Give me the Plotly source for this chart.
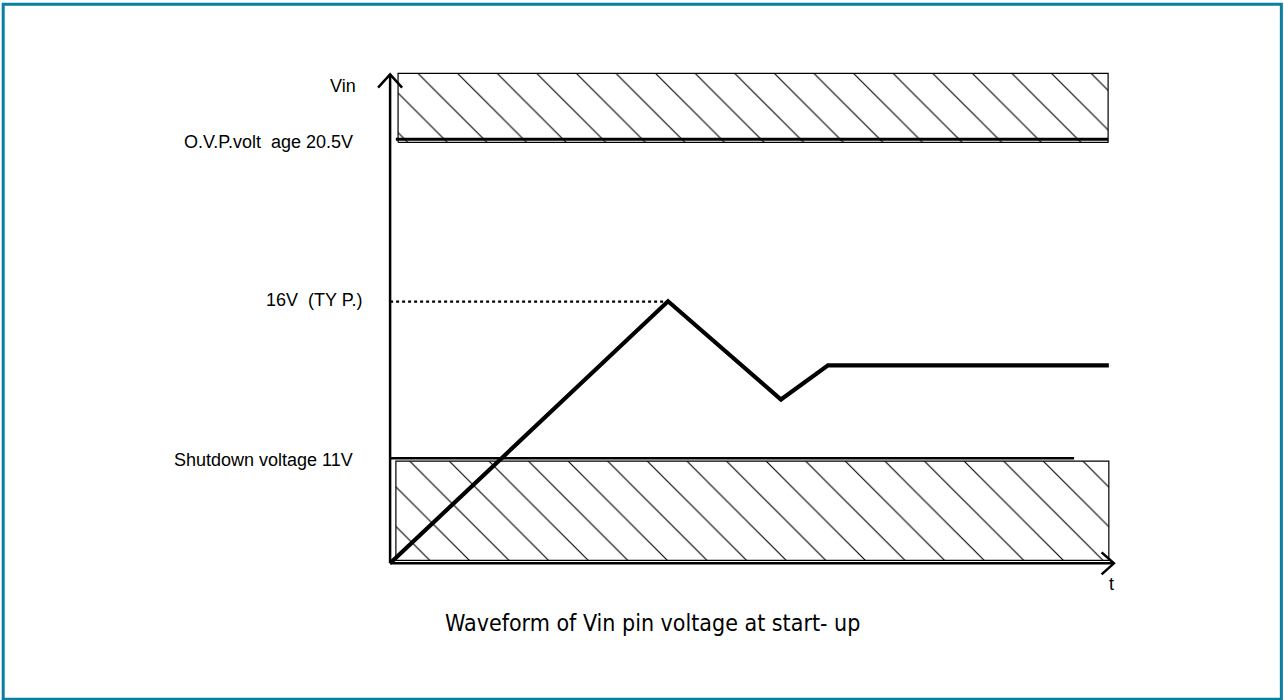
import plotly.graph_objects as go

# ---------------- data (schematic units: time 0-100, Vin level 0-100) ----------------
wave_t = [0.0, 38.4, 54.0, 60.5, 99.3]
wave_v = [0.0, 53.6, 33.5, 40.5, 40.5]

ovp_box_t = [1.1, 99.2]
ovp_box_v = [86.1, 100.2]
ovp_line_t = [0.8, 99.2]
ovp_level = 86.7

typ_line_t = [0.0, 38.4]
typ_level = 53.5

sd_line_t = [0.0, 94.5]
sd_level = 21.5
sd_box_t = [0.8, 99.3]
sd_box_v = [0.6, 20.9]

label_text = ["Vin", "O.V.P.volt  age 20.5V", "16V  (TY P.)", "Shutdown voltage 11V"]
label_t = [-4.4, -4.8, -3.6, -4.8]
label_v = [97.6, 86.1, 53.8, 21.2]

axis_tip_t = 100.0
axis_tip_v = 100.0

title_text = "Waveform of Vin pin voltage at start- up"
title_pos = (36.2, -12.3)
xlabel_text = "t"
xlabel_pos = (99.7, -4.3)

# ---------------- layout geometry ----------------
W, H = 1284, 700
ORIGIN_PX = (390, 563)
KX, KY = 7.24, 4.89
XR = [-2.5, 102.5]
YR = [-3.0, 101.5]
ml = ORIGIN_PX[0] + XR[0] * KX
mr = W - (ORIGIN_PX[0] + XR[1] * KX)
mt = ORIGIN_PX[1] - YR[1] * KY
mb = H - (ORIGIN_PX[1] - YR[0] * KY)
PW, PH = W - ml - mr, H - mt - mb


def px2paper(px, py):
    return (px - ml) / PW, (H - py - mb) / PH


def data2paper(tx, vy):
    return (tx - XR[0]) / (XR[1] - XR[0]), (vy - YR[0]) / (YR[1] - YR[0])


fig = go.Figure()


def hatched_box(tt, vv):
    fig.add_trace(go.Scatter(
        x=[tt[0], tt[1], tt[1], tt[0], tt[0]],
        y=[vv[0], vv[0], vv[1], vv[1], vv[0]],
        mode="lines", fill="toself", fillcolor="white",
        fillpattern=dict(shape="\\", size=28, solidity=0.04,
                         fgcolor="black", bgcolor="white", fillmode="replace"),
        line=dict(color="black", width=1.2),
        hoverinfo="skip", showlegend=False))


hatched_box(ovp_box_t, ovp_box_v)
hatched_box(sd_box_t, sd_box_v)

fig.add_trace(go.Scatter(x=ovp_line_t, y=[ovp_level] * 2, mode="lines",
                         line=dict(color="black", width=3), showlegend=False, hoverinfo="skip"))
fig.add_trace(go.Scatter(x=sd_line_t, y=[sd_level] * 2, mode="lines",
                         line=dict(color="black", width=2.5), showlegend=False, hoverinfo="skip"))
fig.add_trace(go.Scatter(x=typ_line_t, y=[typ_level] * 2, mode="lines",
                         line=dict(color="black", width=2.2, dash="dot"), showlegend=False, hoverinfo="skip"))

fig.add_trace(go.Scatter(x=[0, 0], y=[0, axis_tip_v], mode="lines",
                         line=dict(color="black", width=2.5), showlegend=False, hoverinfo="skip"))
fig.add_trace(go.Scatter(x=[0, axis_tip_t], y=[0, 0], mode="lines",
                         line=dict(color="black", width=2.5), showlegend=False, hoverinfo="skip"))
fig.add_trace(go.Scatter(x=[-1.66, 0, 1.66], y=[axis_tip_v - 2.7, axis_tip_v, axis_tip_v - 2.7],
                         mode="lines", line=dict(color="black", width=2.5),
                         showlegend=False, hoverinfo="skip"))
fig.add_trace(go.Scatter(x=[axis_tip_t - 1.7, axis_tip_t, axis_tip_t - 1.7], y=[2.25, 0, -2.25],
                         mode="lines", line=dict(color="black", width=2.5),
                         showlegend=False, hoverinfo="skip"))

fig.add_trace(go.Scatter(x=wave_t, y=wave_v, mode="lines",
                         line=dict(color="black", width=4.2), showlegend=False, hoverinfo="skip"))

label_font = dict(family="Liberation Sans, Arial", size=18, color="black")
annotations = []
for txt, tx, vy in zip(label_text, label_t, label_v):
    px_, py_ = data2paper(tx, vy)
    annotations.append(dict(x=px_, y=py_, xref="paper", yref="paper", text=txt, showarrow=False,
                            xanchor="right", yanchor="middle", font=label_font))
px_, py_ = data2paper(*xlabel_pos)
annotations.append(dict(x=px_, y=py_, xref="paper", yref="paper", text=xlabel_text, showarrow=False,
                        xanchor="center", yanchor="middle", font=label_font))
px_, py_ = data2paper(*title_pos)
annotations.append(dict(x=px_, y=py_, xref="paper", yref="paper", text=title_text, showarrow=False,
                        xanchor="center", yanchor="middle",
                        font=dict(family="DejaVu Sans Condensed, Liberation Sans Narrow, Liberation Sans",
                                  size=23, color="black")))

bx0, by0 = px2paper(3, 4)
bx1, by1 = px2paper(1281.5, 699)
shapes = [dict(type="rect", xref="paper", yref="paper", x0=bx0, y0=by1, x1=bx1, y1=by0,
               line=dict(color="#0a7fa2", width=3), fillcolor="rgba(0,0,0,0)", layer="above")]

fig.update_layout(
    width=W, height=H,
    margin=dict(l=ml, r=mr, t=mt, b=mb, autoexpand=False),
    paper_bgcolor="white", plot_bgcolor="white",
    xaxis=dict(range=XR, visible=False, fixedrange=True),
    yaxis=dict(range=YR, visible=False, fixedrange=True),
    annotations=annotations, shapes=shapes,
    showlegend=False,
)

fig.write_html("out.html", config={"displayModeBar": False},
               post_script="document.body.style.margin='0px';document.body.style.overflow='hidden';")
